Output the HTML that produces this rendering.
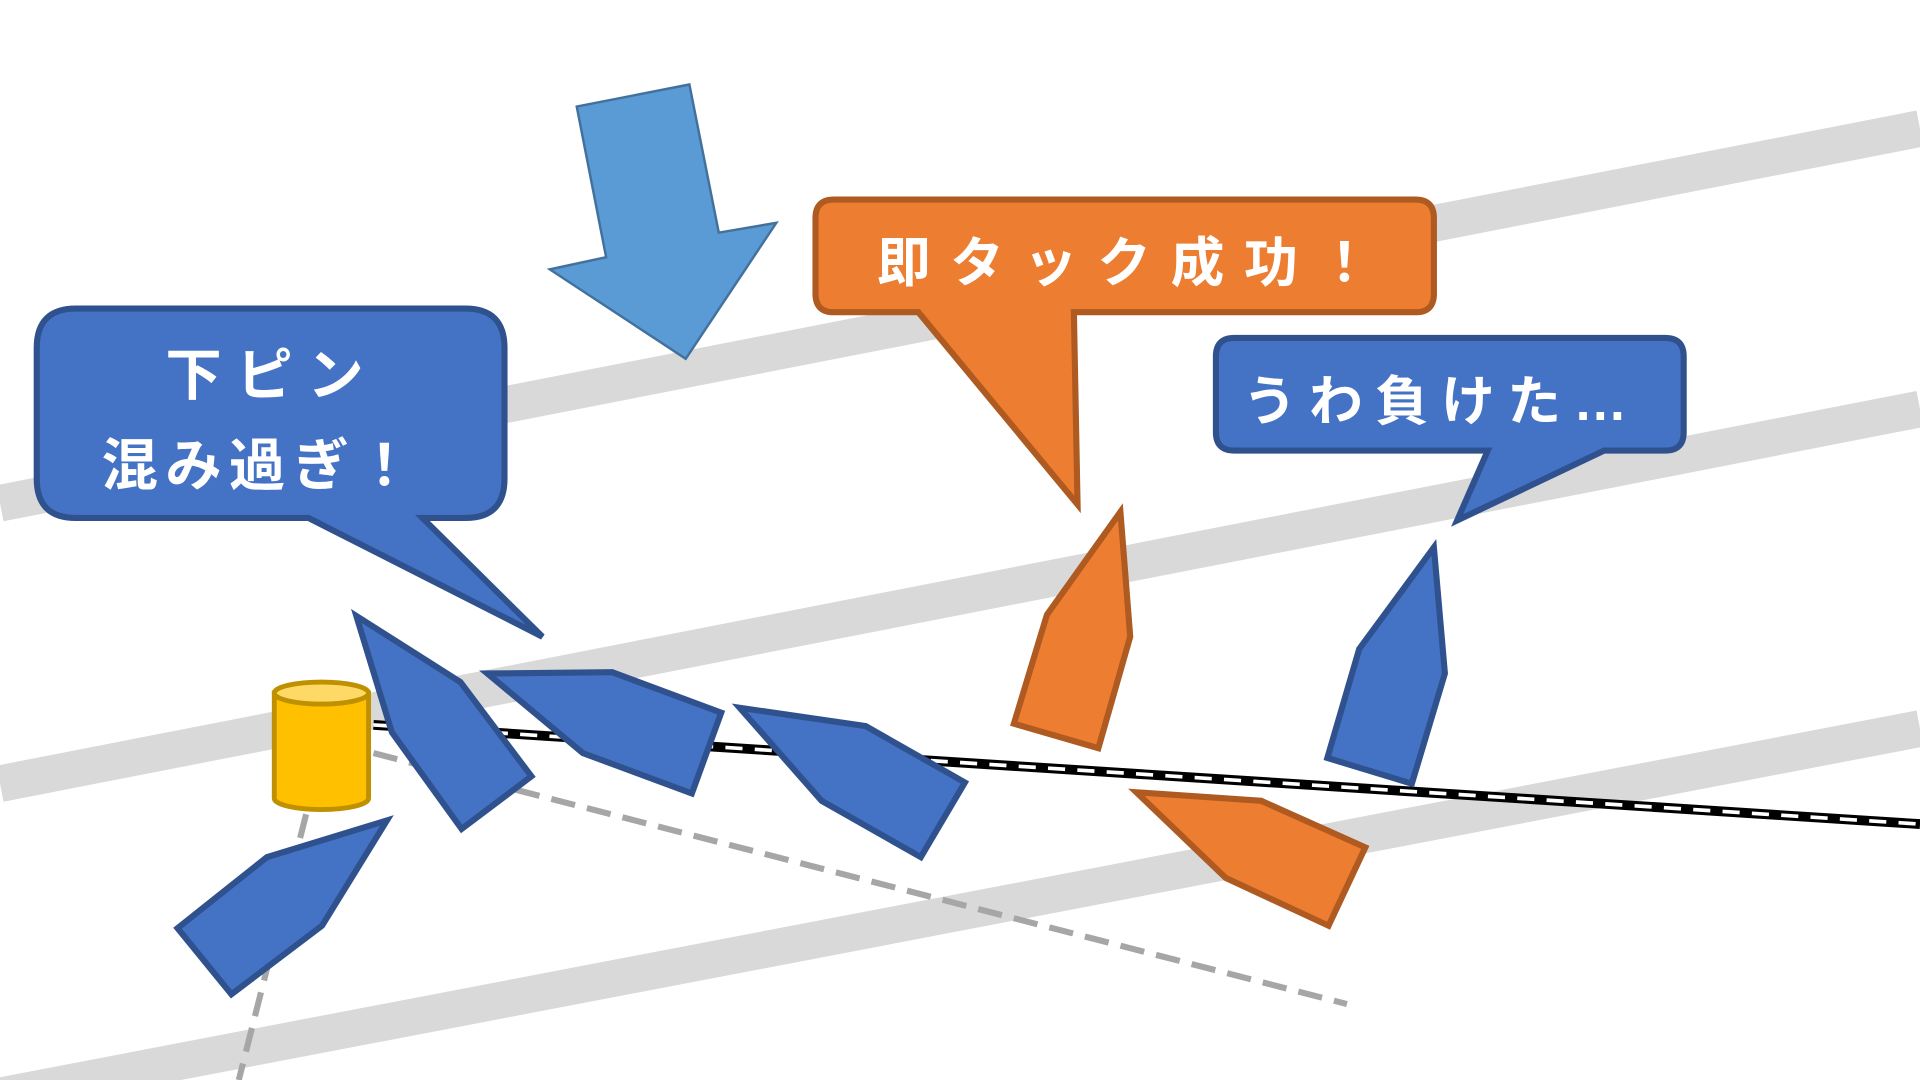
<!DOCTYPE html>
<html><head><meta charset="utf-8"><style>
html,body{margin:0;padding:0;background:#fff;overflow:hidden}
svg{display:block}
text{font-family:"Liberation Sans","Noto Sans CJK JP",sans-serif;fill:#fff;font-weight:bold}
</style></head><body>
<svg width="1920" height="1080" viewBox="0 0 1568 882" xmlns="http://www.w3.org/2000/svg">
<g stroke="#d9d9d9" stroke-width="30" fill="none">
<line x1="0" y1="411" x2="1568" y2="105"/>
<line x1="0" y1="640" x2="1568" y2="334"/>
<line x1="0" y1="895" x2="1568" y2="595"/>
</g>
<g stroke="#a6a6a6" stroke-width="5" stroke-dasharray="20 10" fill="none">
<line x1="305" y1="615" x2="1100" y2="820"/>
<line x1="250" y1="665" x2="195" y2="882"/>
</g>
<line x1="305" y1="592" x2="1568" y2="673" stroke="#000" stroke-width="8"/>
<line x1="305" y1="592" x2="1568" y2="673" stroke="#fff" stroke-width="3" stroke-dasharray="14 10"/>
<path d="M224,566 L224,652 A38,9 0 0 0 301,652 L301,566 Z" fill="#ffc000" stroke="#bf9000" stroke-width="4"/>
<ellipse cx="262.5" cy="566" rx="38.5" ry="9" fill="#ffd966" stroke="#bf9000" stroke-width="4"/>
<polygon points="471,87 563,69 587,190 634,182 560,293 449,220 495,210" fill="#5b9bd5" stroke="#41719c" stroke-width="2"/>
<g fill="#4472c4" stroke="#2f528f" stroke-width="5" stroke-linejoin="miter">
<polygon points="291,503 376,557 434,634 377,677 320,598"/>
<polygon points="398,550 500,549 589,582 565,648 476,615"/>
<polygon points="604,578 707,593 788,639 752,700 671,654"/>
<polygon points="1171,447 1180,550 1153,640 1084,619 1110,530"/>
<polygon points="316,670 218,700 145,758 189,812 263,756"/>
</g>
<g fill="#ed7d31" stroke="#ae5a21" stroke-width="5">
<polygon points="915,418 923,520 897,611 828,591 855,502"/>
<polygon points="928,647 1030,654 1115,692 1085,756 1001,717"/>
</g>
<path d="M62,252 H380 Q412,252 412,284 V391 Q412,423 380,423 H345 L443,520 L252,423 H62 Q30,423 30,391 V284 Q30,252 62,252 Z" fill="#4472c4" stroke="#2f528f" stroke-width="5"/>
<text x="222" y="322" font-size="46" text-anchor="middle" letter-spacing="12">下ピン</text>
<text x="213" y="396" font-size="46" text-anchor="middle" letter-spacing="6">混み過ぎ！</text>
<path d="M681,163 H1156 Q1171,163 1171,178 V240 Q1171,255 1156,255 H877 L880,412 L750,255 H681 Q666,255 666,240 V178 Q666,163 681,163 Z" fill="#ed7d31" stroke="#ae5a21" stroke-width="5"/>
<text x="716" y="230" font-size="44" letter-spacing="16">即タック成功！</text>
<path d="M1008,276 H1360 Q1375,276 1375,291 V353 Q1375,368 1360,368 H1310 L1190,425 L1215,368 H1008 Q993,368 993,353 V291 Q993,276 1008,276 Z" fill="#4472c4" stroke="#2f528f" stroke-width="5"/>
<text x="1015" y="343" font-size="44" letter-spacing="10">うわ負けた…</text>
</svg>
</body></html>
